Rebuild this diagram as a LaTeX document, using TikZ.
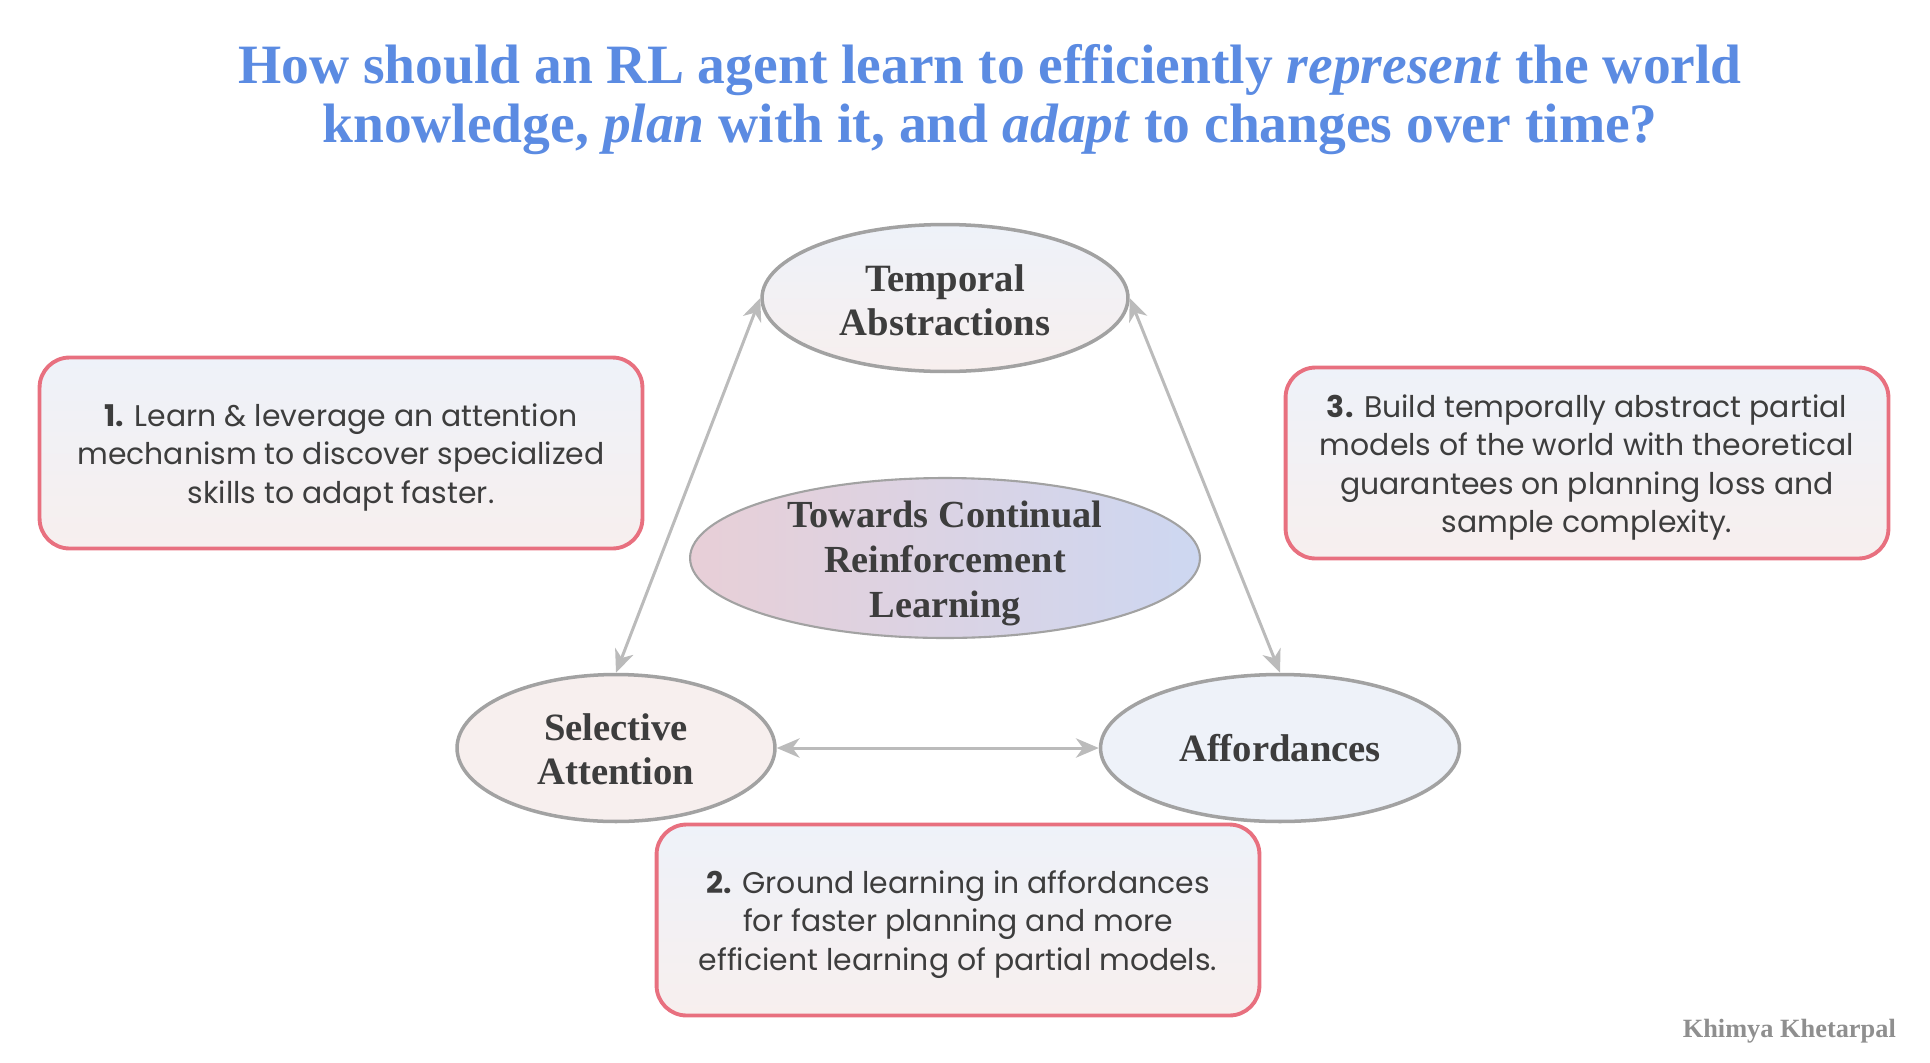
\documentclass[tikz,border=0pt]{standalone}
\usepackage{fontspec}
\setmainfont{Liberation Serif}
\newfontfamily\notefont{Poppins}
\usetikzlibrary{shapes.geometric, arrows.meta}

\definecolor{titleblue}{HTML}{5B8BE2}
\definecolor{textgray}{HTML}{3D3D3D}
\definecolor{edgegray}{HTML}{A2A2A2}
\definecolor{arrowgray}{HTML}{BBBBBB}
\definecolor{notered}{HTML}{E8707F}
\definecolor{siggray}{HTML}{8F8F8F}
\definecolor{paleblue}{HTML}{EEF2F9}
\definecolor{palepink}{HTML}{F7EFEE}
\definecolor{corepink}{HTML}{E8CFD7}
\definecolor{coreblue}{HTML}{CDD7F1}

% invisible strut to push a block of lines down a little
\newcommand{\lift}[1]{\rule{0pt}{#1}}

\begin{document}
\begin{tikzpicture}[
    x=0.02cm, y=-0.02cm,
    headline/.style={align=center, text=titleblue, font=\fontsize{31.6}{33.6}\selectfont\bfseries},
    topic/.style={ellipse, draw=edgegray, line width=2pt, inner sep=0pt, align=center, text=textgray, font=\fontsize{22}{25.2}\selectfont\bfseries, minimum height=2.94cm},
    core/.style={ellipse, draw=edgegray, line width=1.2pt, inner sep=0pt, inner ysep=-9pt, align=center, text=textgray, left color=corepink, right color=coreblue, font=\fontsize{21.8}{25.6}\selectfont\bfseries, minimum width=10.2cm, minimum height=3.2cm},
    note/.style={rectangle, rounded corners=0.6cm, draw=notered, line width=2.2pt, top color=paleblue, bottom color=palepink, minimum width=12.06cm, minimum height=3.82cm, align=center, text=textgray, font=\notefont\fontsize{17}{21.9}\selectfont},
    arrow/.style={{Stealth[length=13pt,width=11pt,inset=4pt]}-{Stealth[length=13pt,width=11pt,inset=4pt]}, line width=1.7pt, draw=arrowgray}
]
\useasboundingbox (0,0) rectangle (1930,1062);

% Title
\node[headline] (title) at (990,100) {How should an RL agent learn to efficiently \textit{represent} the world\\knowledge, \textit{plan} with it, and \textit{adapt} to changes over time?};

% Triangle of ellipses
\node[topic, minimum width=7.32cm, top color=paleblue, bottom color=palepink] (ta) at (945,298) {\lift{17.5pt}Temporal\\Abstractions};
\node[topic, minimum width=6.36cm, fill=palepink] (sa) at (616,748) {\lift{17pt}Selective\\Attention};
\node[topic, minimum width=7.18cm, fill=paleblue] (af) at (1280,748) {Affordances};
\node[core] (crl) at (945,558) {\lift{21.5pt}Towards Continual\\Reinforcement\\Learning};

% Arrows
\draw [arrow] (ta.west) -- (sa.north);
\draw [arrow] (ta.east) -- (af.north);
\draw [arrow] (sa.east) -- (af.west);

% Notes
\node[note] (n1) at (341,453) {\lift{18pt}\textbf{1.} Learn \& leverage an attention\\mechanism to discover specialized\\skills to adapt faster.};
\node[note] (n2) at (958,920) {\lift{18pt}\textbf{2.} Ground learning in affordances\\for faster planning and more\\efficient learning of partial models.};
\node[note] (n3) at (1587,463) {\lift{18pt}\textbf{3.} Build temporally abstract partial\\models of the world with theoretical\\guarantees on planning loss and\\sample complexity.};

% Signature
\node[anchor=base east, text=siggray, font=\fontsize{15}{17}\selectfont\bfseries] (sig) at (1902,1037) {Khimya Khetarpal};

\end{tikzpicture}
\end{document}
